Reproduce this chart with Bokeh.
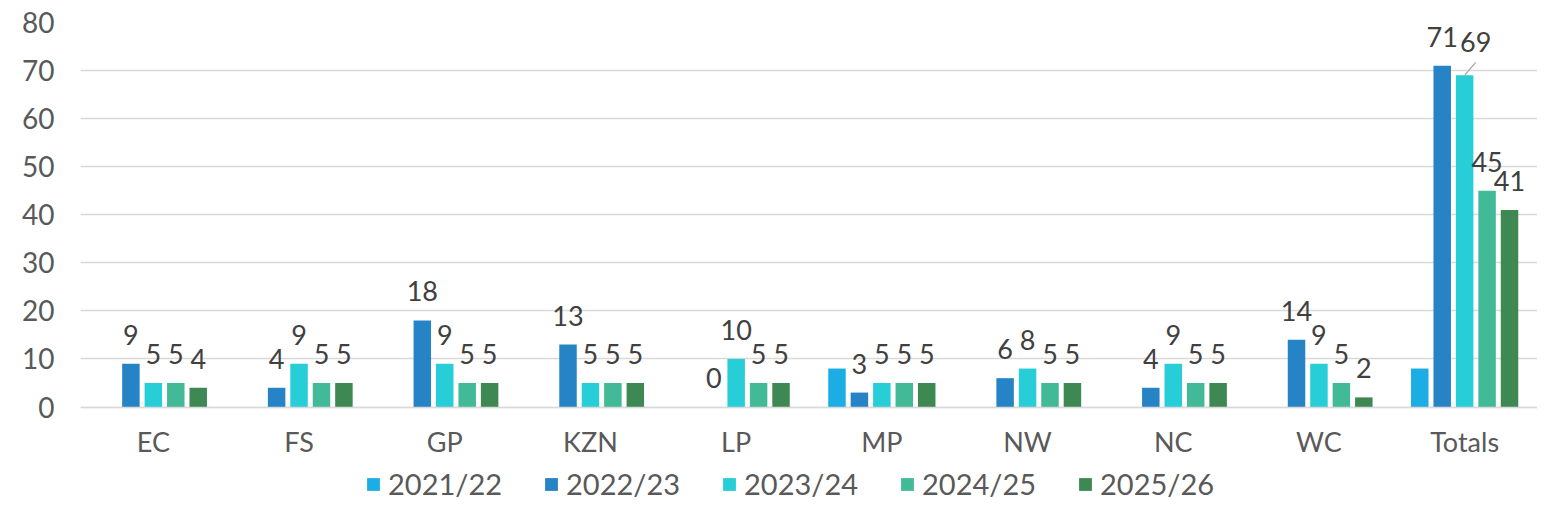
from bokeh.plotting import figure
from bokeh.models import (ColumnDataSource, LabelSet, Legend, LegendItem,
                          FactorRange, Range1d, FixedTicker)
from bokeh.transform import dodge
from bokeh.embed import file_html
from bokeh.resources import INLINE
from bokeh.core.properties import value

# ---------------- data ----------------
categories = ["EC", "FS", "GP", "KZN", "LP", "MP", "NW", "NC", "WC", "Totals"]
series_names = ["2021/22", "2022/23", "2023/24", "2024/25", "2025/26"]
v_2021_22 = [None, None, None, None, None, 8, None, None, None, 8]
v_2022_23 = [9, 4, 18, 13, 0, 3, 6, 4, 14, 71]
v_2023_24 = [5, 9, 9, 5, 10, 5, 8, 9, 9, 69]
v_2024_25 = [5, 5, 5, 5, 5, 5, 5, 5, 5, 45]
v_2025_26 = [4, 5, 5, 5, 5, 5, 5, 5, 2, 41]
y_ticks = [0, 10, 20, 30, 40, 50, 60, 70, 80]
series_values = [v_2021_22, v_2022_23, v_2023_24, v_2024_25, v_2025_26]
show_labels = [False, True, True, True, True]

# ---------------- style ----------------
colors = ["#1CADE4", "#2683C6", "#27CED7", "#42BA97", "#3E8853"]
FONT = "Lato"
AXIS_COLOR = "#595959"
LABEL_COLOR = "#404040"
GRID_COLOR = "#D9D9D9"
W, H = 1537, 502
BL, BR, BT = 80, 0, 22
zero_y = 406.5                 # px from top where value 0 sits
px_per_unit = (zero_y - BT) / 80.0
y_min = -(H - zero_y) / px_per_unit   # frame extends below 0 to host labels + legend
bar_step = 0.154
bar_width = 0.12
label_gap = 19          # px from bar top to label baseline
nudges = {("Totals", "2023/24"): (11, 4)}   # overlapping label moved, with leader

p = figure(x_range=FactorRange(*categories, range_padding=0),
           y_range=Range1d(y_min, 80),
           width=W, height=H, output_backend="svg", toolbar_location=None,
           min_border_left=BL, min_border_right=BR,
           min_border_top=BT, min_border_bottom=0)
p.outline_line_color = None
p.background_fill_color = "white"
p.border_fill_color = "white"

frame_w = W - BL - BR
px_per_cat = frame_w / len(categories)

renderers = []
for i, (name, vals) in enumerate(zip(series_names, series_values)):
    off = (i - 2) * bar_step
    src = ColumnDataSource(dict(cat=categories,
                                val=[float("nan") if v is None else v for v in vals]))
    r = p.vbar(x=dodge("cat", off, range=p.x_range), top="val", bottom=0,
               width=bar_width, source=src, fill_color=colors[i], line_color=None)
    renderers.append((name, r))
    if show_labels[i]:
        cats, vs, txt, dxs, dys = [], [], [], [], []
        for c, v in zip(categories, vals):
            if v is None:
                continue
            nx, ny = nudges.get((c, name), (0, 0))
            cats.append(c); vs.append(v); txt.append(str(v))
            dxs.append(nx); dys.append(label_gap + ny)
        lsrc = ColumnDataSource(dict(cat=cats, val=vs, text=txt, dx=dxs, dy=dys))
        p.add_layout(LabelSet(x=dodge("cat", off, range=p.x_range), y="val",
                              text="text", x_offset="dx", y_offset="dy",
                              source=lsrc, text_align="center",
                              text_baseline="alphabetic",
                              text_font=value(FONT), text_font_size="27px",
                              text_color=LABEL_COLOR))
        for (c, sname), (nx, ny) in nudges.items():
            if sname != name:
                continue
            v = vals[categories.index(c)]
            seg = ColumnDataSource(dict(cat=[c], y0=[v], y1=[v + (ny + 9) / px_per_unit]))
            p.segment(x0=dodge("cat", off, range=p.x_range), y0="y0",
                      x1=dodge("cat", off + nx / px_per_cat, range=p.x_range), y1="y1",
                      source=seg, line_color="#A6A6A6", line_width=1.2)

# axes
p.yaxis.ticker = FixedTicker(ticks=y_ticks)
p.yaxis.axis_line_color = None
p.yaxis.major_tick_line_color = None
p.yaxis.minor_tick_line_color = None
p.yaxis.major_label_standoff = 20
p.yaxis.major_label_text_font = FONT
p.yaxis.major_label_text_font_size = "28px"
p.yaxis.major_label_text_color = AXIS_COLOR

p.xaxis.fixed_location = 0
p.xaxis.axis_line_color = GRID_COLOR
p.xaxis.axis_line_width = 1.5
p.xaxis.major_tick_line_color = None
p.xaxis.minor_tick_line_color = None
p.xaxis.major_label_standoff = 12
p.xaxis.major_label_text_font = FONT
p.xaxis.major_label_text_font_size = "27px"
p.xaxis.major_label_text_color = AXIS_COLOR

p.xgrid.grid_line_color = None
p.ygrid.ticker = FixedTicker(ticks=y_ticks)
p.ygrid.grid_line_color = GRID_COLOR
p.ygrid.grid_line_width = 1.5

legend_center_y = 484          # px from top
legend_h = 34
legend = Legend(items=[LegendItem(label=n, renderers=[r]) for n, r in renderers],
                orientation="horizontal",
                location=(285, (H - legend_center_y) - legend_h / 2),
                glyph_width=16, glyph_height=16, label_standoff=7,
                label_width=130, label_height=legend_h, spacing=25,
                padding=0, margin=0,
                label_text_font=FONT, label_text_font_size="29px",
                label_text_color=AXIS_COLOR, border_line_alpha=0,
                background_fill_alpha=0)
p.add_layout(legend)

open("out.html", "w").write(file_html(p, INLINE))
